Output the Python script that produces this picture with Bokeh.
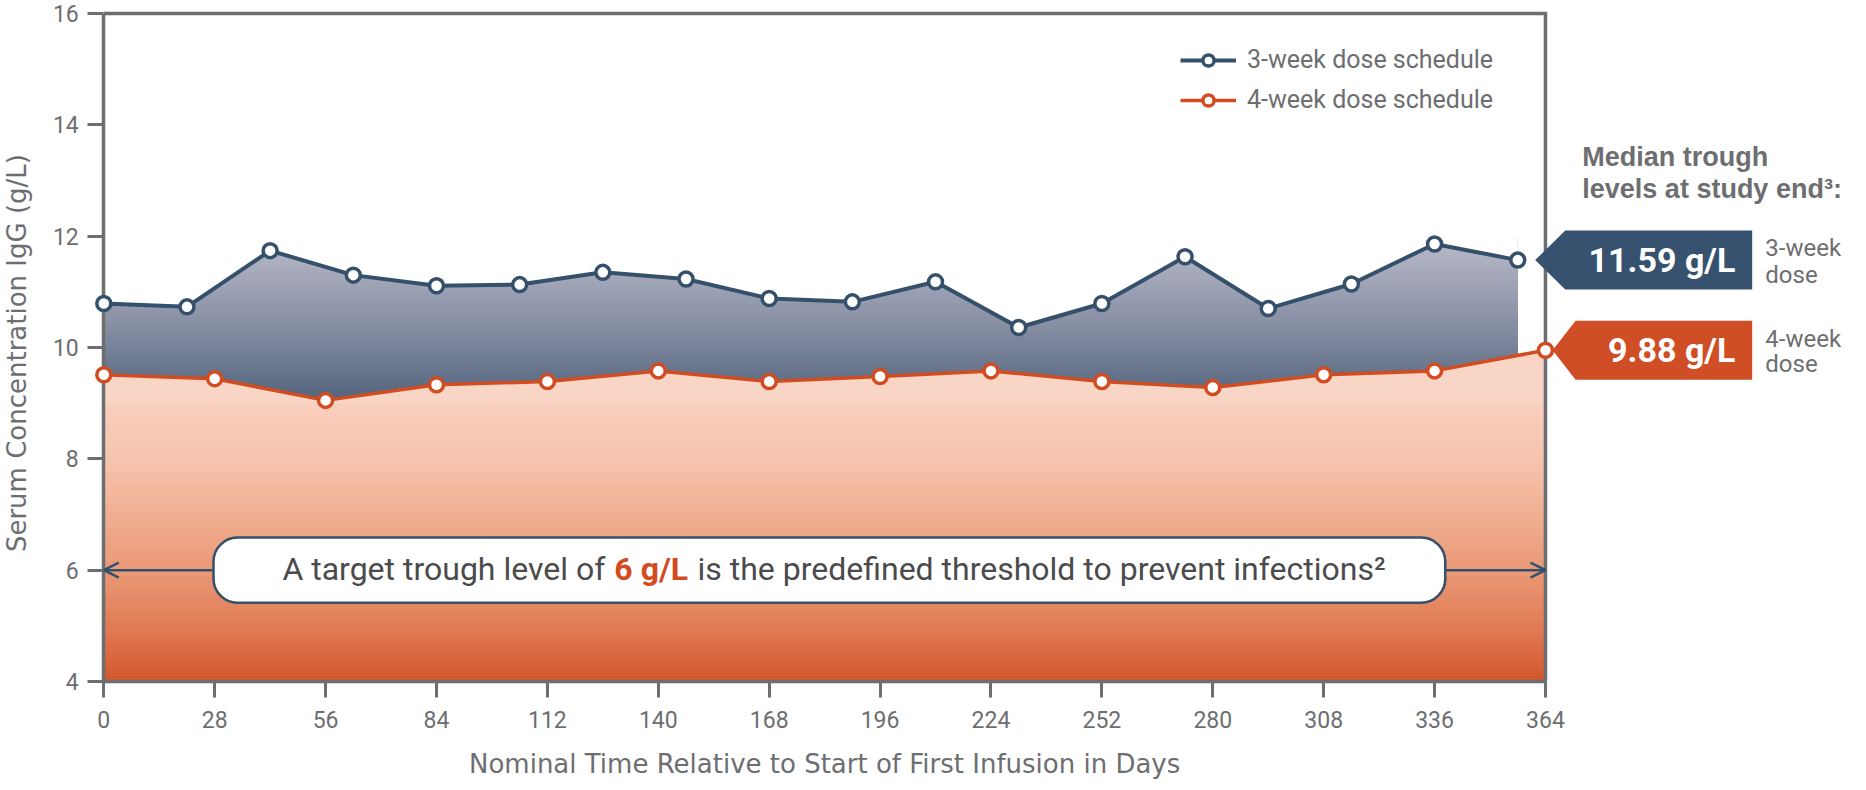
import numpy as np
from bokeh.plotting import figure
from bokeh.models import (Range1d, FixedTicker, Legend, LegendItem, Label, Arrow,
                          OpenHead, BoxAnnotation)
from bokeh.core.properties import value
from bokeh.embed import file_html
from bokeh.resources import INLINE

# ---------------- data ----------------
days_3wk = [0, 21, 42, 63, 84, 105, 126, 147, 168, 189, 210, 231, 252, 273, 294, 315, 336, 357]
igg_3wk = [10.79, 10.73, 11.74, 11.30, 11.11, 11.13, 11.35, 11.23, 10.88, 10.82, 11.18,
           10.36, 10.79, 11.63, 10.70, 11.14, 11.86, 11.57]
days_4wk = [0, 28, 56, 84, 112, 140, 168, 196, 224, 252, 280, 308, 336, 364]
igg_4wk = [9.51, 9.44, 9.05, 9.33, 9.39, 9.58, 9.39, 9.48, 9.58, 9.39, 9.28, 9.51, 9.58, 9.95]
x_ticks = [0, 28, 56, 84, 112, 140, 168, 196, 224, 252, 280, 308, 336, 364]
y_ticks = [4, 6, 8, 10, 12, 14, 16]
series_names = ["3-week dose schedule", "4-week dose schedule"]
median_labels = ["11.59 g/L", "9.88 g/L"]
dose_labels = [["3-week", "dose"], ["4-week", "dose"]]
heading = ["Median trough", "levels at study end\u00b3:"]
x_title = "Nominal Time Relative to Start of First Infusion in Days"
y_title = "Serum Concentration IgG (g/L)"
threshold = 6

# ---------------- styles ----------------
GRAY = "#6d6e71"
NAVY = "#35506b"
ORANGE = "#d24c21"
NAVY_TAG = "#37526e"
ORANGE_TAG = "#cf4e26"
TEXT_DARK = "#4b4b4d"


def hex2rgb(h):
    h = h.lstrip("#")
    return np.array([int(h[i:i + 2], 16) for i in (0, 2, 4)], dtype=float)


def grad_color(stops, v):
    st = sorted(stops)
    vs = [s[0] for s in st]
    cs = [hex2rgb(s[1]) for s in st]
    rgb = [np.interp(v, vs, [c[k] for c in cs]) for k in range(3)]
    return "#%02x%02x%02x" % tuple(int(round(c)) for c in rgb)


navy_stops = [(12.0, "#b8bbca"), (10.5, "#8a91a6"), (9.0, "#50627b")]
orange_stops = [(9.9, "#fad8c9"), (8.0, "#f6c4ae"), (7.0, "#f0ae91"),
                (6.0, "#ea9876"), (5.0, "#e07c55"), (4.0, "#d3542a")]

# whole canvas is the frame; axes are placed at fixed data locations
p = figure(width=1864, height=788, output_backend="svg", toolbar_location=None,
           x_range=Range1d(-26.08, 444.55), y_range=Range1d(2.078, 16.2335),
           min_border_left=0, min_border_right=0, min_border_top=0, min_border_bottom=0)
p.outline_line_color = None
p.grid.visible = False
p.background_fill_color = "white"
p.border_fill_color = "white"

# ---------------- gradient areas ----------------
n_tops = np.linspace(12.0, 9.0, 61)[:-1]
p.quad(left=days_3wk[0], right=days_3wk[-1], bottom=8.9, top=n_tops,
       fill_color=[grad_color(navy_stops, t) for t in n_tops], line_color=None)
p.varea(x=days_3wk, y1=igg_3wk, y2=y_ticks[-1], fill_color="white")
p.varea(x=days_4wk, y1=8.9, y2=igg_4wk, fill_color=grad_color(orange_stops, 9.6))
o_tops = np.linspace(9.0, 4.0, 101)[:-1]
p.quad(left=days_4wk[0], right=days_4wk[-1], bottom=y_ticks[0], top=o_tops,
       fill_color=[grad_color(orange_stops, t) for t in o_tops], line_color=None)

# top and right frame lines
p.line(x=[x_ticks[0], x_ticks[-1], x_ticks[-1]], y=[y_ticks[-1], y_ticks[-1], y_ticks[0]],
       line_color=GRAY, line_width=3.5, line_join="miter")

# ---------------- series ----------------
l3 = p.line(days_3wk, igg_3wk, line_color=NAVY, line_width=4)
s3 = p.scatter(days_3wk, igg_3wk, marker="circle", size=14, fill_color="white",
               line_color=NAVY, line_width=3.5)
l4 = p.line(days_4wk, igg_4wk, line_color=ORANGE, line_width=3.5)
s4 = p.scatter(days_4wk, igg_4wk, marker="circle", size=14, fill_color="white",
               line_color=ORANGE, line_width=3.5)
s3.level = "annotation"
s4.level = "annotation"

# ---------------- right panel ----------------
centers = [igg_3wk[-1], igg_4wk[-1]]
tips = [361.4, 365.8]
corners = [369.0, 371.6]
tag_right = 416.2
hh = 0.53
xs = [[t, c, tag_right, tag_right, c] for t, c in zip(tips, corners)]
ys = [[m, m + hh, m + hh, m - hh, m - hh] for m in centers]
p.patches(xs=xs, ys=ys, fill_color=[NAVY_TAG, ORANGE_TAG], line_color=None)
p.text(x=[411.95, 411.95], y=centers, text=median_labels, text_align="right",
       text_baseline="middle", text_font=value("Roboto"), text_font_style="bold",
       text_font_size=value("34px"), text_color="white")
p.text(x=[419.5] * 4,
       y=[centers[0] + 0.21, centers[0] - 0.26, centers[1] + 0.21, centers[1] - 0.25],
       text=[dose_labels[0][0], dose_labels[0][1], dose_labels[1][0], dose_labels[1][1]],
       text_align="left", text_baseline="middle", text_font=value("Roboto"),
       text_font_size=value("24px"), text_color=GRAY)
p.text(x=[373.3, 373.3], y=[13.43, 12.84], text=heading, text_align="left",
       text_baseline="middle", text_font=value("Liberation Sans"), text_font_style="bold",
       text_font_size=value("27px"), text_color=GRAY)

# ---------------- axes ----------------
xa = p.xaxis[0]
xa.bounds = (x_ticks[0], x_ticks[-1])
xa.ticker = FixedTicker(ticks=x_ticks)
xa.fixed_location = y_ticks[0]
ya = p.yaxis[0]
ya.bounds = (y_ticks[0], y_ticks[-1])
ya.ticker = FixedTicker(ticks=y_ticks)
ya.fixed_location = x_ticks[0]
for ax in (xa, ya):
    ax.axis_line_color = GRAY
    ax.axis_line_width = 3.5
    ax.major_tick_line_color = GRAY
    ax.major_tick_line_width = 3
    ax.major_tick_out = 16
    ax.major_tick_in = 0
    ax.minor_tick_line_color = None
    ax.major_label_text_font = "Roboto"
    ax.major_label_text_font_size = "23px"
    ax.major_label_text_color = GRAY
xa.major_label_standoff = 13
ya.major_label_standoff = 9

# axis titles
p.text(x=[(x_ticks[0] + x_ticks[-1]) / 2], y=[2.51], text=[x_title],
       text_align="center", text_baseline="middle", text_font=value("DejaVu Sans"),
       text_font_size=value("26px"), text_color=GRAY)
p.text(x=[-22.0], y=[9.9], text=[y_title], angle=np.pi / 2,
       text_align="center", text_baseline="middle", text_font=value("DejaVu Sans"),
       text_font_size=value("26px"), text_color=GRAY)

# ---------------- threshold callout ----------------
box_l, box_r = 27.7, 338.7
p.add_layout(BoxAnnotation(left=box_l, right=box_r, bottom=threshold - 0.585,
                           top=threshold + 0.585, fill_color="white", fill_alpha=1.0,
                           line_color=NAVY, line_alpha=1.0, line_width=2.5, border_radius=24))
p.add_layout(Arrow(x_start=box_l, y_start=threshold, x_end=x_ticks[0], y_end=threshold,
                   line_color=NAVY, line_width=2.5,
                   end=OpenHead(size=15, line_color=NAVY, line_width=2.5)))
p.add_layout(Arrow(x_start=box_r, y_start=threshold, x_end=x_ticks[-1], y_end=threshold,
                   line_color=NAVY, line_width=2.5,
                   end=OpenHead(size=15, line_color=NAVY, line_width=2.5)))
p.add_layout(Label(x=45.1, y=threshold + 0.02, text="A target trough level of",
                   text_align="left", text_baseline="middle", text_font="Roboto",
                   text_font_size="32px", text_color=TEXT_DARK))
p.add_layout(Label(x=128.9, y=threshold + 0.02, text=f"{threshold} g/L",
                   text_align="left", text_baseline="middle", text_font="Roboto",
                   text_font_style="bold", text_font_size="32px", text_color=ORANGE))
p.add_layout(Label(x=149.9, y=threshold + 0.02,
                   text="is the predefined threshold to prevent infections\u00b2",
                   text_align="left", text_baseline="middle", text_font="Roboto",
                   text_font_size="32px", text_color=TEXT_DARK))

# ---------------- legend ----------------
legend = Legend(items=[LegendItem(label=series_names[0], renderers=[l3, s3]),
                       LegendItem(label=series_names[1], renderers=[l4, s4])],
                location=(1180, 674), orientation="vertical",
                border_line_color=None, background_fill_alpha=0,
                label_text_font="Roboto", label_text_font_size="25px",
                label_text_color=GRAY, glyph_width=56, glyph_height=28,
                label_height=28, label_standoff=11, spacing=11, padding=0, margin=0)
p.add_layout(legend)

open("out.html", "w").write(file_html(p, INLINE))
